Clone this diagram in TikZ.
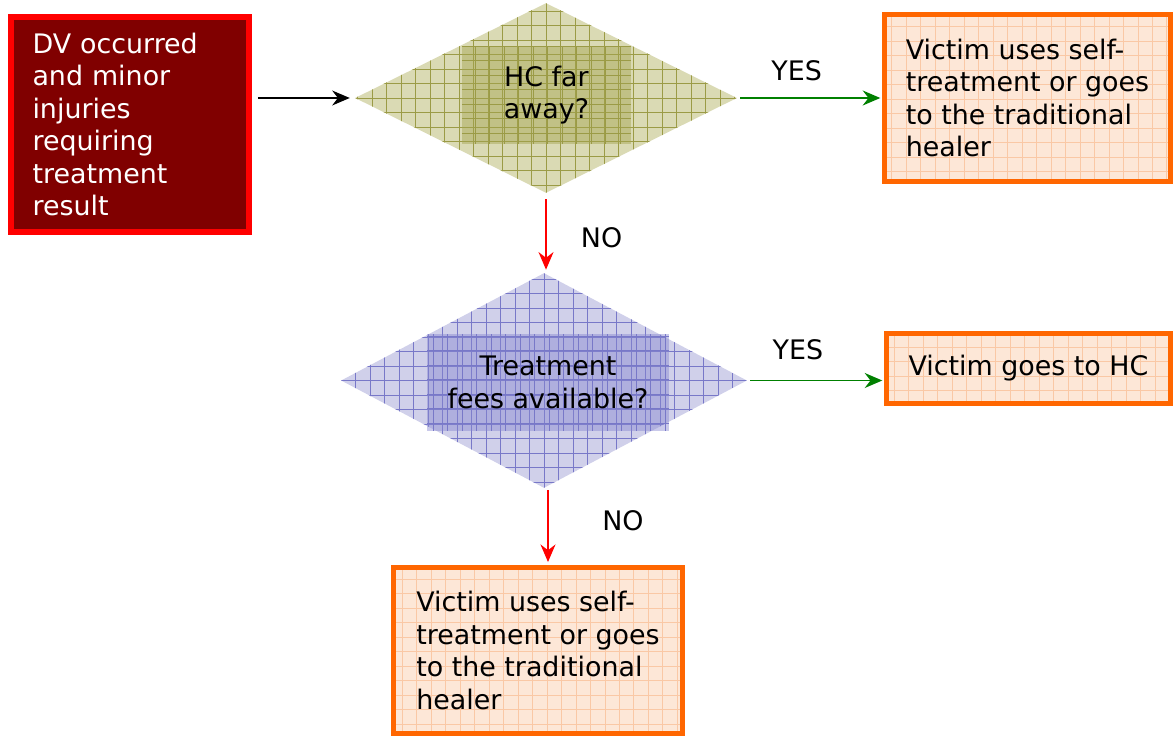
\documentclass[tikz,border=0pt]{standalone}
\usepackage{fontspec}
\setmainfont{DejaVu Sans}
\usepackage{tikz}
\usetikzlibrary{shapes.geometric, arrows.meta, positioning}
\definecolor{cD}{RGB}{128, 0, 0}
\definecolor{cR}{RGB}{255, 0, 0}
\definecolor{cG}{RGB}{0, 128, 0}
\definecolor{cO}{RGB}{255, 102, 0}
\definecolor{cP}{RGB}{253, 231, 215}
\definecolor{cPg}{RGB}{250, 200, 165}
\definecolor{cY}{RGB}{218, 218, 180}
\definecolor{cYd}{RGB}{164, 164, 80}
\definecolor{cYg}{RGB}{155, 155, 70}
\definecolor{cU}{RGB}{208, 208, 234}
\definecolor{cUd}{RGB}{135, 135, 208}
\definecolor{cUg}{RGB}{120, 120, 200}
\tikzstyle{arrow} = [-{Stealth[length=10pt,width=8.5pt]},line width=1.1pt]
\tikzstyle{StateStart}=[rectangle,
		line width=3.4pt,
		draw=cR,
		fill=cD,
		text=white,
		minimum width=4.76cm,
		minimum height=4.3cm,
		text width=3.9cm,
		align=left]
\tikzstyle{StateEnd}=[rectangle,
		line width=2.8pt,
		draw=cO,
		fill=cP,
		align=left,
		path picture={\draw[cPg,line width=0.25pt,step=0.29cm]
		  (path picture bounding box.south west) grid (path picture bounding box.north east);}]
\tikzstyle{Label}=[text=black]
\tikzset{
  Ask/.style 2 args={diamond,
    inner sep=0pt,
    fill=#1,
    path picture={\draw[#2,line width=0.25pt,step=0.29cm]
      (path picture bounding box.south west) grid (path picture bounding box.north east);}},
  AskText/.style 2 args={rectangle,
    fill=#1,
    fill opacity=0.45,
    text opacity=1,
    align=center,
    path picture={\draw[#2,line width=0.25pt,step=0.29cm,shift={(0.145cm,0.145cm)}]
      (path picture bounding box.south west) grid (path picture bounding box.north east);}}
}

\begin{document}
\begin{tikzpicture}[x=0.02cm,y=-0.02cm,font=\fontsize{15.3}{18.5}\selectfont]
  \useasboundingbox (0,0) rectangle (1175,736);

  % start and questions
  \node [StateStart] (dv) at (130,124.5) {DV occurred\\and minor\\injuries\\requiring\\treatment\\result};
  \node [Ask={cY}{cYg},minimum width=7.64cm,minimum height=3.8cm] (far) at (546,98) {};
  \node [AskText={cYd}{cYg},minimum width=3.38cm,minimum height=1.96cm] (fartxt) at (546.5,95) {HC far\\away?};
  \node [Ask={cU}{cUg},minimum width=8.12cm,minimum height=4.3cm] (fees) at (544,380.5) {};
  \node [AskText={cUd}{cUg},minimum width=4.84cm,minimum height=1.94cm] (feestxt) at (548,382.5) {Treatment\\fees available?};

  % outcomes
  \node [StateEnd,minimum width=5.72cm,minimum height=3.34cm] (self) at (1027.5,98) {Victim uses self-\\treatment or goes\\to the traditional\\healer};
  \node [StateEnd,minimum width=5.68cm,minimum height=1.4cm] (hc) at (1028.5,368.5) {Victim goes to HC};
  \node [StateEnd,minimum width=5.78cm,minimum height=3.32cm] (trad) at (538,650.5) {Victim uses self-\\treatment or goes\\to the traditional\\healer};

  \coordinate (feesout) at ([xshift=0.08cm]fees.south);

  \draw[arrow,shorten <=3.4pt,shorten >=2.8pt] (dv.east |- far.west) -- (far.west);
  \draw[arrow,cG,shorten <=1.7pt,shorten >=1pt] (far.east) -- node[Label,above=6pt,pos=0.41] (yes1) {YES} (self.west);
  \draw[arrow,cR,shorten <=3.4pt,shorten >=1.7pt] (far.south) -- node[Label,right=16pt,pos=0.56] (no1) {NO} (far.south |- fees.north);
  \draw[arrow,cG,shorten <=1.7pt,shorten >=1pt] (fees.east) -- node[Label,above=8pt,pos=0.37] (yes2) {YES} (fees.east -| hc.west);
  \draw[arrow,cR,shorten <=1pt,shorten >=1.7pt] (feesout) -- node[Label,right=27pt,pos=0.42] (no2) {NO} (feesout |- trad.north);

\end{tikzpicture}
\end{document}
